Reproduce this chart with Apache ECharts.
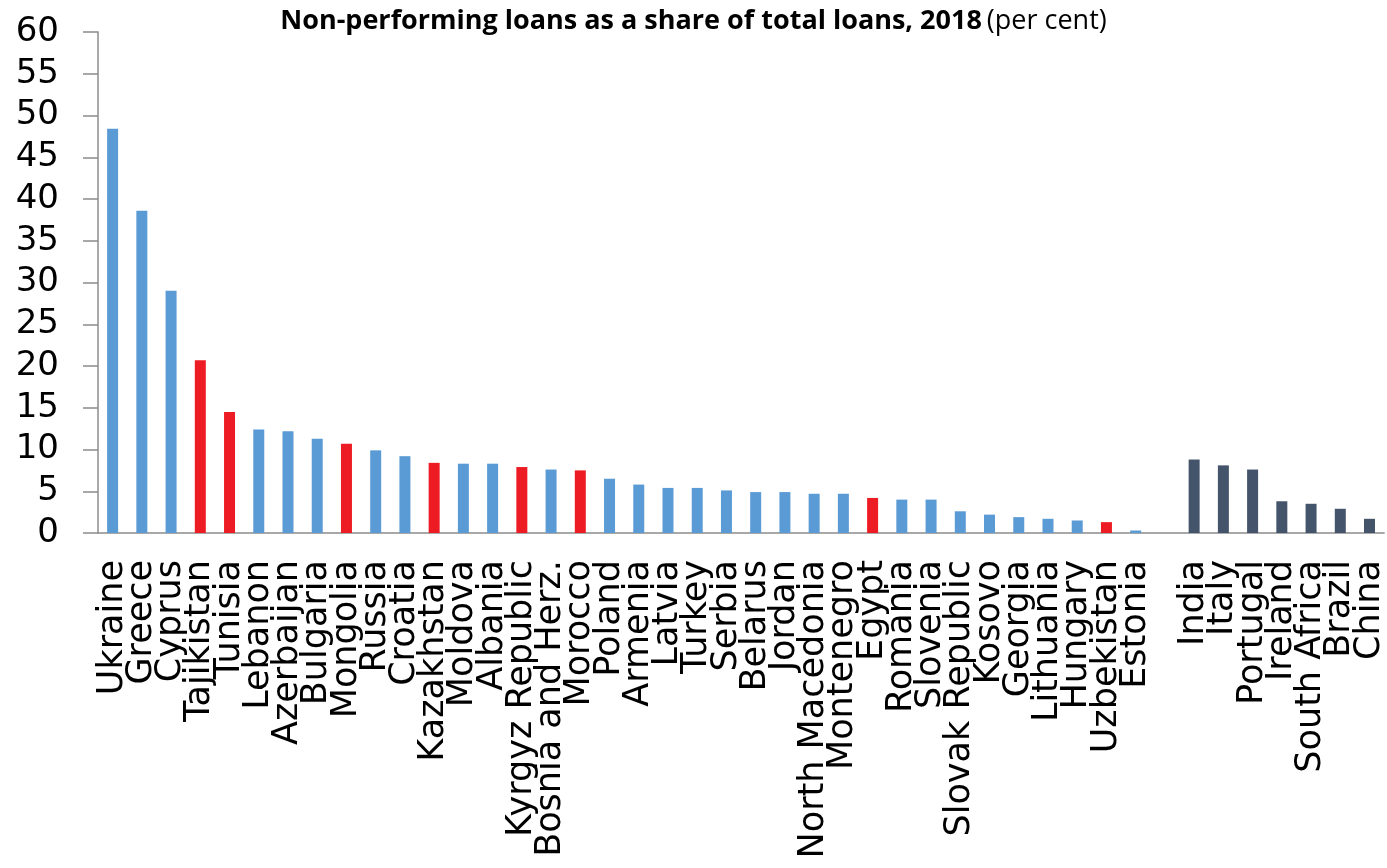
<!DOCTYPE html>
<html>
<head>
<meta charset="utf-8">
<title>Non-performing loans, 2018</title>
<script src="https://cdn.jsdelivr.net/npm/echarts@6/dist/echarts.min.js"></script>
<style>
  html, body { margin: 0; padding: 0; background: #ffffff; }
  #chart { width: 1387px; height: 868px; }
</style>
</head>
<body>
<div id="chart"></div>
<script>
// Country names; the empty entry separates the comparator economies.
const categories = [
  'Ukraine', 'Greece', 'Cyprus', 'Tajikistan', 'Tunisia', 'Lebanon', 'Azerbaijan',
  'Bulgaria', 'Mongolia', 'Russia', 'Croatia', 'Kazakhstan', 'Moldova', 'Albania',
  'Kyrgyz Republic', 'Bosnia and Herz.', 'Morocco', 'Poland', 'Armenia', 'Latvia',
  'Turkey', 'Serbia', 'Belarus', 'Jordan', 'North Macedonia', 'Montenegro', 'Egypt',
  'Romania', 'Slovenia', 'Slovak Republic', 'Kosovo', 'Georgia', 'Lithuania',
  'Hungary', 'Uzbekistan', 'Estonia', '',
  'India', 'Italy', 'Portugal', 'Ireland', 'South Africa', 'Brazil', 'China'
];

// Non-performing loans, per cent of total loans
const npl = [
  48.4, 38.6, 29.0, 20.7, 14.5, 12.4, 12.2,
  11.3, 10.7, 9.9, 9.2, 8.4, 8.3, 8.3,
  7.9, 7.6, 7.5, 6.5, 5.8, 5.4,
  5.4, 5.1, 4.9, 4.9, 4.7, 4.7, 4.2,
  4.0, 4.0, 2.6, 2.2, 1.9, 1.7,
  1.5, 1.3, 0.3, null,
  8.8, 8.1, 7.6, 3.8, 3.5, 2.9, 1.7
];

// Group of each country: r = region, h = highlighted, c = comparator
const groups = [
  'r', 'r', 'r', 'h', 'h', 'r', 'r',
  'r', 'h', 'r', 'r', 'h', 'r', 'r',
  'h', 'r', 'h', 'r', 'r', 'r',
  'r', 'r', 'r', 'r', 'r', 'r', 'h',
  'r', 'r', 'r', 'r', 'r', 'r',
  'r', 'h', 'r', 'r',
  'c', 'c', 'c', 'c', 'c', 'c', 'c'
];

const yTicks = { min: 0, max: 60, step: 5 };

const groupColors = { r: '#5b9bd5', h: '#ed1c24', c: '#44546a' };
const axisGrey = '#8c8c8c';
const labelFont = 'DejaVu Sans';

const chart = echarts.init(document.getElementById('chart'), null, { renderer: 'canvas' });

chart.setOption({
  backgroundColor: '#ffffff',
  animation: false,
  title: {
    left: 'center',
    top: 8,
    padding: [0, 0, 0, 16],
    text: '{b|Non-performing loans as a share of total loans, 2018} {n|(per cent)}',
    textStyle: {
      rich: {
        b: { fontFamily: 'Open Sans', fontWeight: 'bold', fontSize: 27, color: '#000000' },
        n: { fontFamily: 'Open Sans', fontWeight: 'normal', fontSize: 27, color: '#000000' }
      }
    }
  },
  grid: { left: 98, right: 1, top: 32, bottom: 335, containLabel: false },
  xAxis: {
    type: 'category',
    data: categories,
    boundaryGap: true,
    axisLine: { show: true, lineStyle: { color: axisGrey, width: 1.5 } },
    axisTick: { show: false },
    axisLabel: {
      interval: 0,
      rotate: 90,
      margin: 27,
      hideOverlap: false,
      color: '#000000',
      fontFamily: labelFont,
      fontSize: 35
    },
    splitLine: { show: false }
  },
  yAxis: {
    type: 'value',
    min: yTicks.min,
    max: yTicks.max,
    interval: yTicks.step,
    axisLine: { show: true, lineStyle: { color: axisGrey, width: 1.5 } },
    axisTick: { show: true, inside: false, length: 15, lineStyle: { color: axisGrey, width: 1.5 } },
    axisLabel: {
      margin: 39,
      color: '#000000',
      fontFamily: labelFont,
      fontSize: 34
    },
    splitLine: { show: false }
  },
  series: [{
    type: 'bar',
    barWidth: 11,
    data: npl.map((v, i) => ({
      value: v,
      itemStyle: { color: groupColors[groups[i]] }
    }))
  }]
});
</script>
</body>
</html>
